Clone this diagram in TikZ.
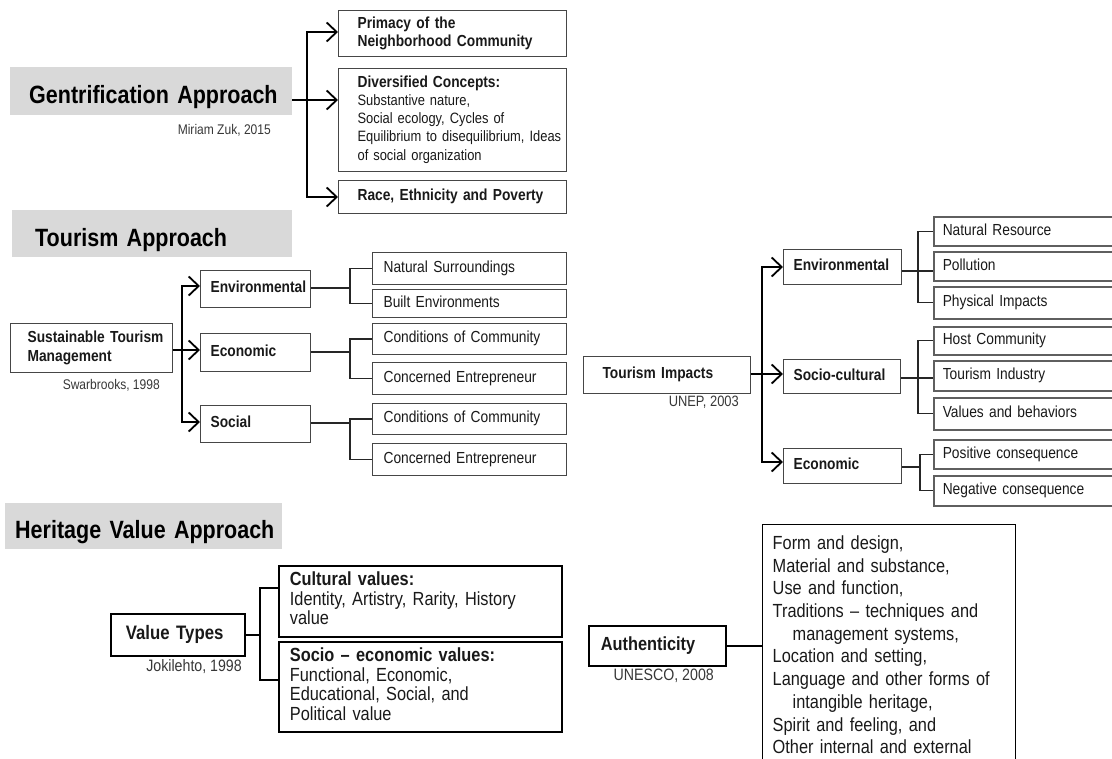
\documentclass[tikz,border=0pt]{standalone}
\usepackage{fontspec}
\setmainfont{Liberation Sans}[FakeStretch=0.86]
\usetikzlibrary{arrows.meta}
\definecolor{headgray}{RGB}{217,217,217}
\definecolor{boxline}{RGB}{70,70,70}
\definecolor{leafline}{RGB}{95,95,95}
\definecolor{txt}{RGB}{25,25,25}
\definecolor{citec}{RGB}{55,55,55}
\newcommand{\myfs}[2]{\fontsize{#1pt}{#2pt}\selectfont}
\newcommand{\tl}[1]{\begin{tabular}{@{}l@{}}#1\end{tabular}}
\tikzset{
  head/.style={fill=headgray, inner ysep=0pt, anchor=north west, align=left, font=\bfseries\myfs{25}{28}, text=black},
  tb/.style={draw=boxline, line width=1.2pt, anchor=north west, inner ysep=0pt, align=left, text=txt},
  rleaf/.style={tb, draw=leafline, line width=1.6pt},
  hb/.style={draw=black, line width=1.8pt, anchor=north west, inner ysep=0pt, align=left, text=txt},
  bold16/.style={font=\bfseries\myfs{16}{19}},
  reg16/.style={font=\myfs{16}{19}},
  cit/.style={anchor=base east, inner sep=0pt, text=citec},
  arr/.style={line width=1.8pt, -{Straight Barb[length=10pt,width=19pt]}},
  trunk/.style={line width=1.8pt, line cap=rect},
  br/.style={line width=1.3pt, draw=black!85},
  hbr/.style={line width=1.5pt, draw=black},
}
\begin{document}
\begin{tikzpicture}[x=1pt,y=-1pt]
\useasboundingbox (0,0) rectangle (1112,759);
\clip (0,0) rectangle (1112,759);

% ---------------- Gentrification ----------------
\node[head, inner xsep=19pt, text width=244pt, text height=36pt, text depth=12pt] (gent) at (10,67) {\mbox{Gentrification Approach}};
\node[cit, font=\myfs{14}{16}] (zuk) at (271,135) {Miriam Zuk, 2015};

\node[tb, minimum height=46pt, inner xsep=19pt, text width=190pt, font=\bfseries\myfs{16}{18}] (prim) at (338,10) {\tl{Primacy of the\\Neighborhood Community}};
\node[tb, minimum height=103pt, inner xsep=19pt, text width=190pt, font=\myfs{15}{18.2}] (div) at (338,68) {\tl{{\bfseries\myfs{16}{18.2}Diversified Concepts:}\\Substantive nature,\\Social ecology, Cycles of\\Equilibrium to disequilibrium, Ideas\\of social organization}};
\node[tb, bold16, minimum height=33pt, inner xsep=19pt, text width=190pt] (race) at (338,180) {\tl{Race, Ethnicity and Poverty}};

\coordinate (gT) at (307,32);
\coordinate (gM) at (307,100);
\coordinate (gB) at (307,197);
\draw[trunk] (gT) -- (gB);
\draw[arr] (gT) -- (gT -| prim.west);
\draw[arr] (gent.east |- gM) -- (gM -| div.west);
\draw[arr] (gB) -- (gB -| race.west);

% ---------------- Tourism (left) ----------------
\node[head, inner xsep=23pt, text width=234pt, text height=36pt, text depth=11pt] (tour) at (12,210) {\mbox{Tourism Approach}};

\node[tb, minimum height=49pt, inner xsep=17pt, text width=128pt, font=\bfseries\myfs{16}{18.5}] (stm) at (10,323) {\tl{Sustainable Tourism\\Management}};
\node[cit, font=\myfs{14}{16}] (swar) at (160,390) {Swarbrooks, 1998};

\node[tb, bold16, minimum height=37pt, inner xsep=10pt, text width=90pt] (envA) at (200,270) {\tl{Environmental}};
\node[tb, bold16, minimum height=38pt, inner xsep=10pt, text width=90pt] (ecoA) at (200,333) {\tl{Economic}};
\node[tb, bold16, minimum height=37pt, inner xsep=10pt, text width=90pt] (socA) at (200,405) {\tl{Social}};

\node[tb, reg16, minimum height=32pt, inner xsep=11pt, text width=172pt] (ns) at (372,252) {\tl{Natural Surroundings}};
\node[tb, reg16, minimum height=28pt, inner xsep=11pt, text width=172pt] (be) at (372,289) {\tl{Built Environments}};
\node[tb, reg16, minimum height=31pt, inner xsep=11pt, text width=172pt] (ccA) at (372,323) {\tl{Conditions of Community}};
\node[tb, reg16, minimum height=32pt, inner xsep=11pt, text width=172pt] (ceA) at (372,362) {\tl{Concerned Entrepreneur}};
\node[tb, reg16, minimum height=31pt, inner xsep=11pt, text width=172pt] (ccB) at (372,403) {\tl{Conditions of Community}};
\node[tb, reg16, minimum height=32pt, inner xsep=11pt, text width=172pt] (ceB) at (372,443) {\tl{Concerned Entrepreneur}};

\coordinate (tT) at (182,286);
\coordinate (tM) at (182,350);
\coordinate (tB) at (182,422);
\draw[trunk] (tT) -- (tB);
\draw[arr] (tT) -- (tT -| envA.west);
\draw[arr] (stm.east |- tM) -- (tM -| ecoA.west);
\draw[arr] (tB) -- (tB -| socA.west);

\coordinate (lE) at (350,288);
\coordinate (lC) at (350,352);
\coordinate (lS) at (350,423);
\draw[br] (envA.east |- lE) -- (lE);
\draw[br] (ns.west) -| (lE) |- (be.west);
\draw[br] (ecoA.east |- lC) -- (lC);
\draw[br] (ccA.west) -| (lC) |- (ceA.west);
\draw[br] (socA.east |- lS) -- (lS);
\draw[br] (ccB.west) -| (lS) |- (ceB.west);

% ---------------- Tourism (right) ----------------
\node[tb, bold16, minimum height=37pt, inner xsep=19pt, text width=129pt] (ti) at (583,356) {\tl{Tourism Impacts}};
\node[cit, font=\myfs{15}{17}] (unep) at (739,407) {UNEP, 2003};

\node[tb, bold16, minimum height=35pt, inner xsep=10pt, text width=98pt] (envB) at (783,249) {\tl{Environmental}};
\node[tb, bold16, minimum height=34pt, inner xsep=10pt, text width=97pt] (socB) at (783,359) {\tl{Socio-cultural}};
\node[tb, bold16, minimum height=35pt, inner xsep=10pt, text width=98pt] (ecoB) at (783,448) {\tl{Economic}};

\node[rleaf, reg16, minimum height=29pt, inner xsep=9pt, text width=182pt] (nr) at (933,216) {\tl{Natural Resource}};
\node[rleaf, reg16, minimum height=29pt, inner xsep=9pt, text width=182pt] (pol) at (933,251) {\tl{Pollution}};
\node[rleaf, reg16, minimum height=32pt, inner xsep=9pt, text width=182pt] (phy) at (933,286) {\tl{Physical Impacts}};
\node[rleaf, reg16, minimum height=28pt, inner xsep=9pt, text width=182pt] (host) at (933,326) {\tl{Host Community}};
\node[rleaf, reg16, minimum height=30pt, inner xsep=9pt, text width=182pt] (tind) at (933,360) {\tl{Tourism Industry}};
\node[rleaf, reg16, minimum height=32pt, inner xsep=9pt, text width=182pt] (val) at (933,397) {\tl{Values and behaviors}};
\node[rleaf, reg16, minimum height=29pt, inner xsep=9pt, text width=182pt] (pos) at (933,439) {\tl{Positive consequence}};
\node[rleaf, reg16, minimum height=30pt, inner xsep=9pt, text width=182pt] (neg) at (933,475) {\tl{Negative consequence}};

\coordinate (rT) at (762,267);
\coordinate (rM) at (762,374);
\coordinate (rB) at (762,462);
\draw[trunk] (rT) -- (rB);
\draw[arr] (rT) -- (rT -| envB.west);
\draw[arr] (ti.east |- rM) -- (rM -| socB.west);
\draw[arr] (rB) -- (rB -| ecoB.west);

\coordinate (rE) at (918,271);
\coordinate (rS) at (918,378);
\coordinate (rC) at (920,467);
\draw[br] (envB.east |- rE) -- (rE -| pol.west);
\draw[br] (nr.west) -| (rE) |- (phy.west);
\draw[br] (socB.east |- rS) -- (rS -| tind.west);
\draw[br] (host.west) -| (rS) |- (val.west);
\draw[br] (ecoB.east |- rC) -- (rC);
\draw[br] (pos.west) -| (rC) |- (neg.west);

% ---------------- Heritage ----------------
\node[head, inner xsep=10pt, text width=257pt, text height=35pt, text depth=11pt] (heri) at (5,503) {\mbox{Heritage Value Approach}};

\node[hb, minimum height=42pt, inner xsep=15pt, text width=104pt, font=\bfseries\myfs{19.5}{21}] (vt) at (110,613) {\tl{Value Types}};
\node[cit, font=\myfs{16.5}{18}] (joki) at (242,671) {Jokilehto, 1998};

\node[hb, minimum height=71pt, inner xsep=11pt, text width=261pt, font=\myfs{19}{19.5}] (cv) at (278,565) {\tl{{\bfseries Cultural values:}\\Identity, Artistry, Rarity, History\\value}};
\node[hb, minimum height=90pt, inner xsep=11pt, text width=261pt, font=\myfs{19}{19.5}] (sv) at (278,641) {\tl{{\bfseries Socio – economic values:}\\Functional, Economic,\\Educational, Social, and\\Political value}};

\coordinate (hT) at (260,588);
\coordinate (hB) at (260,680);
\draw[hbr] (vt.east) -- (vt.east -| hT);
\draw[hbr] (hT -| cv.west) -- (hT) -- (hB) -- (hB -| sv.west);

\node[hb, line width=1.6pt, minimum height=40pt, inner xsep=12pt, text width=113pt, font=\bfseries\myfs{19}{21}] (auth) at (588,625) {\tl{Authenticity}};
\node[cit, font=\myfs{16.5}{18}] (unes) at (714,680) {UNESCO, 2008};

\node[hb, line width=1.4pt, inner xsep=10pt, inner ysep=11pt, text width=233pt, font=\myfs{19}{22.7}] (list) at (762,524) {Form and design,\\Material and substance,\\Use and function,\\Traditions – techniques and\\\hspace*{20pt}management systems,\\Location and setting,\\Language and other forms of\\\hspace*{20pt}intangible heritage,\\Spirit and feeling, and\\Other internal and external};
\draw[hbr] (auth.east) -- (auth.east -| list.west);
\end{tikzpicture}
\end{document}
